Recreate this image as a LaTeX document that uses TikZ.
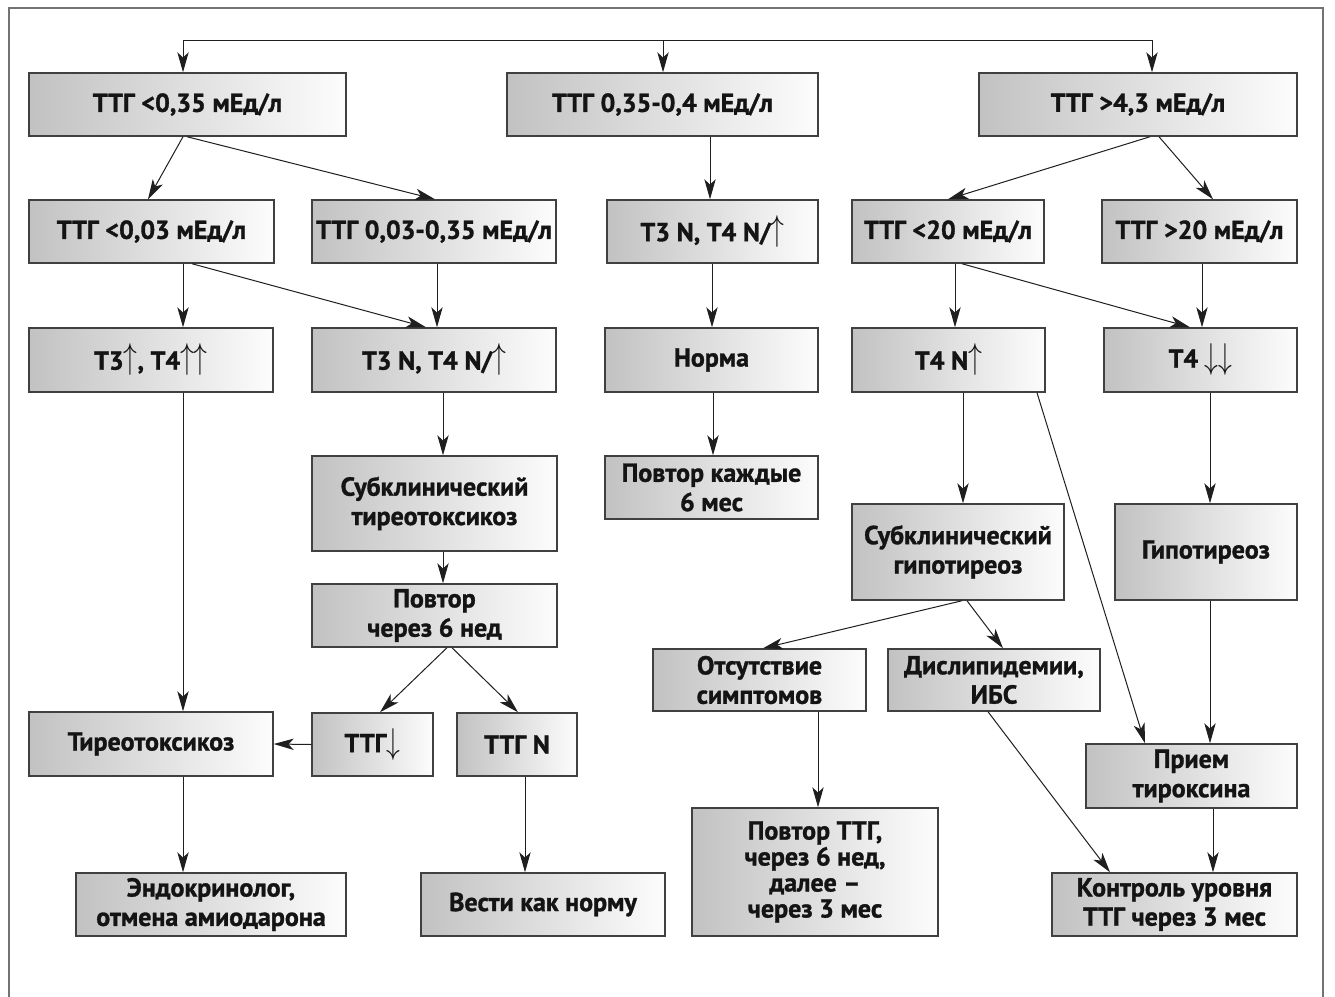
\documentclass[tikz,border=0pt]{standalone}
\usepackage{fontspec}
\usepackage{graphicx}
\setmainfont{PT Sans}[BoldFeatures={FakeBold=1.2}]
\usetikzlibrary{arrows.meta}
\newcommand\upar{\raisebox{0.5pt}{\scalebox{1}[1.3]{$\uparrow$}}}
\newcommand\dnar{\raisebox{-1pt}{\scalebox{1}[1.3]{$\downarrow$}}}
\begin{document}
\begin{tikzpicture}[x=0.75pt,y=-0.75pt,
  box/.style={draw=black!75, line width=1.1pt, left color=black!24, middle color=black!9, right color=black!1,
    inner sep=0pt, align=center, text=black!92,
    font=\bfseries\fontsize{19.5}{22}\selectfont},
  conn/.style={line width=0.75pt, draw=black!88,
    -{Stealth[length=15pt,width=8.5pt,inset=4pt]}},
  plain/.style={line width=0.75pt, draw=black!88},
  frame/.style={draw=black!55, line width=1.5pt}
]
\newcommand\bx[6]{\node[box, minimum width={(#4-#2)*0.75pt}, minimum height={(#5-#3)*0.75pt}] (#1) at ({(#2+#4)/2},{(#3+#5)/2}) {#6};}
\useasboundingbox (0,0) rectangle (1335,996);
\clip (0,0) rectangle (1335,996);
\fill[white] (0,0) rectangle (1335,996);
\draw[frame] (9,8) rectangle (1323,1020);

% row 1
\bx{b1}{29}{73}{346}{136}{ТТГ <0,35 мЕд/л}
\bx{b4}{507}{73}{818}{136}{ТТГ 0,35-0,4 мЕд/л}
\bx{b6}{979}{73}{1297}{136}{ТТГ >4,3 мЕд/л}
% row 2
\bx{b2}{29}{200}{274}{263}{ТТГ <0,03 мЕд/л}
\bx{b3}{312}{200}{556}{263}{ТТГ 0,03-0,35 мЕд/л}
\bx{b5}{607}{200}{818}{263}{Т3 N, Т4 N/\upar}
\bx{b7}{852}{200}{1044}{263}{ТТГ <20 мЕд/л}
\bx{b8}{1102}{200}{1297}{263}{ТТГ >20 мЕд/л}
% row 3
\bx{b9}{29}{328}{273}{392}{Т3\upar, Т4\upar\upar}
\bx{b10}{312}{328}{556}{392}{Т3 N, Т4 N/\upar}
\bx{b11}{605}{328}{818}{392}{Норма}
\bx{b12}{852}{328}{1045}{392}{Т4 N\upar}
\bx{b13}{1104}{328}{1297}{392}{Т4 \dnar\dnar}
% row 4
\bx{b14}{312}{456}{557}{551}{Субклинический\\тиреотоксикоз}
\bx{b15}{605}{456}{818}{519}{Повтор каждые\\6 мес}
\bx{b16}{312}{584}{557}{647}{Повтор\\через 6 нед}
\bx{b17}{852}{504}{1064}{600}{Субклинический\\гипотиреоз}
\bx{b18}{1115}{504}{1297}{600}{Гипотиреоз}
\bx{b19}{653}{649}{866}{711}{Отсутствие\\симптомов}
\bx{b20}{888}{649}{1100}{711}{Дислипидемии,\\ИБС}
% row 5
\bx{b21}{29}{712}{273}{776}{Тиреотоксикоз}
\bx{b22}{312}{713}{433}{776}{ТТГ\dnar}
\bx{b23}{457}{713}{577}{776}{ТТГ N}
\bx{b24}{1086}{744}{1297}{808}{Прием\\тироксина}
% row 6
\bx{b25}{76}{873}{346}{936}{Эндокринолог,\\отмена амиодарона}
\bx{b26}{421}{873}{665}{936}{Вести как норму}
\node[box, font=\bfseries\fontsize{19.5}{19.5}\selectfont, minimum width={246*0.75pt}, minimum height={128*0.75pt}] (b27) at (815,872) {Повтор ТТГ,\\через 6 нед,\\далее –\\через 3 мес};
\bx{b28}{1052}{873}{1297}{936}{Контроль уровня\\ТТГ через 3 мес}

% top bracket
\coordinate (tl) at (183,40);
\coordinate (tm) at (663,40);
\coordinate (tr) at (1152,40);
\draw[plain] (tl) -- (tr);
\draw[conn] (tl) -- (tl |- b1.north);
\draw[conn] (tm) -- (tm |- b4.north);
\draw[conn] (tr) -- (tr |- b6.north);

% connectors
\draw[conn] (b1.south -| 183,0) -- (b2.north -| 148,0);
\draw[conn] (b1.south -| 187,0) -- (b3.north -| 435,0);
\draw[conn] (b4.south -| 710,0) -- (b5.north -| 710,0);
\draw[conn] (b6.south -| 1150,0) -- (b7.north -| 948,0);
\draw[conn] (b6.south -| 1159,0) -- (b8.north -| 1213,0);
\draw[conn] (b2.south -| 183,0) -- (b9.north -| 183,0);
\draw[conn] (b2.south -| 192,0) -- (b10.north -| 426,0);
\draw[conn] (b3.south -| 437,0) -- (b10.north -| 437,0);
\draw[conn] (b5.south -| 712,0) -- (b11.north -| 712,0);
\draw[conn] (b7.south -| 955,0) -- (b12.north -| 955,0);
\draw[conn] (b7.south -| 962,0) -- (b13.north -| 1190,0);
\draw[conn] (b8.south -| 1202,0) -- (b13.north -| 1202,0);
\draw[conn] (b9.south -| 183,0) -- (b21.north -| 183,0);
\draw[conn] (b10.south -| 443,0) -- (b14.north -| 443,0);
\draw[conn] (b11.south -| 713,0) -- (b15.north -| 713,0);
\draw[conn] (b12.south -| 963,0) -- (b17.north -| 963,0);
\draw[conn] (b12.south -| 1037,0) -- (b24.north -| 1145,0);
\draw[conn] (b13.south -| 1210,0) -- (b18.north -| 1210,0);
\draw[conn] (b14.south -| 443,0) -- (b16.north -| 443,0);
\draw[conn] (b16.south -| 447,0) -- (b22.north -| 380,0);
\draw[conn] (b16.south -| 452,0) -- (b23.north -| 518,0);
\draw[conn] (b17.south -| 962,0) -- (b19.north -| 763,0);
\draw[conn] (b17.south -| 967,0) -- (b20.north -| 1003,0);
\draw[conn] (b18.south -| 1210,0) -- (b24.north -| 1210,0);
\draw[conn] (b22.west) -- (b21.east);
\draw[conn] (b21.south -| 183,0) -- (b25.north -| 183,0);
\draw[conn] (b23.south -| 525,0) -- (b26.north -| 525,0);
\draw[conn] (b19.south -| 818,0) -- (b27.north -| 818,0);
\draw[conn] (b20.south -| 988,0) -- (b28.north -| 1110,0);
\draw[conn] (b24.south -| 1213,0) -- (b28.north -| 1213,0);
\end{tikzpicture}
\end{document}
